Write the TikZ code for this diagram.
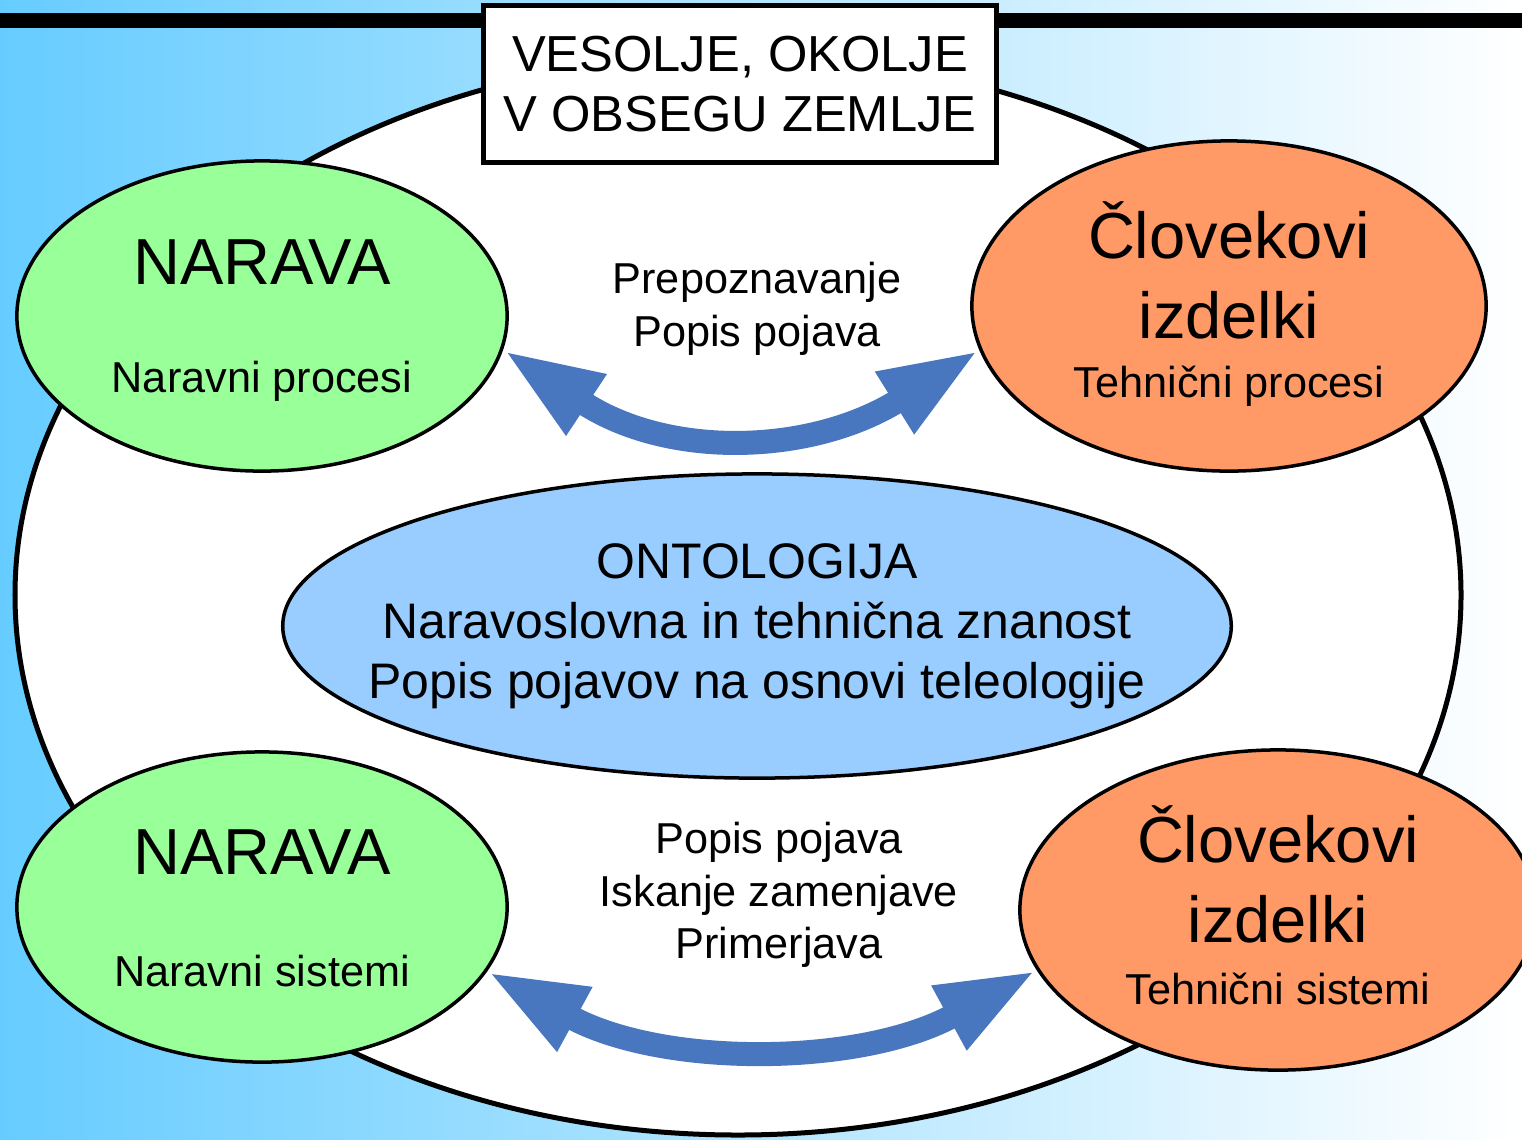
\documentclass[tikz,border=0pt]{standalone}
\usepackage{fontspec}
\setmainfont{Liberation Sans}
\usetikzlibrary{shapes.geometric,arrows.meta}
\definecolor{r102g204b255}{RGB}{102,204,255}
\definecolor{r153g255b153}{RGB}{153,255,153}
\definecolor{r255g153b102}{RGB}{255,153,102}
\definecolor{r153g204b255}{RGB}{153,204,255}
\definecolor{r72g119b191}{RGB}{72,119,191}
\tikzset{
  greenell/.style={ellipse, draw, line width=0.035cm, fill=r153g255b153, minimum width=4.9cm, minimum height=3.1cm},
  orangeell/.style={ellipse, draw, line width=0.035cm, fill=r255g153b102},
  bluearrow/.style={draw=r72g119b191, line width=0.24cm,
    {Triangle[length=1cm,width=0.66cm]}-{Triangle[length=1cm,width=0.66cm]}},
  bigtext/.style={inner sep=0pt, font=\fontsize{18.5}{22.8}\selectfont},
  smalltext/.style={inner sep=0pt, align=center, font=\fontsize{12.3}{15}\selectfont},
  midtext/.style={inner sep=0pt, align=center, font=\fontsize{14.2}{17}\selectfont}
}
\begin{document}
\begin{tikzpicture}[x=0.01cm,y=-0.01cm]
% Page and background
\useasboundingbox (0,0) rectangle (1522,1139);
\clip (0,0) rectangle (1522,1139);
\shade [left color=r102g204b255, right color=white] (0,0) rectangle (1522,1139);
\fill [black] (0,13) rectangle (1522,28);

% Drawing the big ellipse
\draw [line width=0.05cm, fill=white] (738,595) ellipse [x radius=723, y radius=540];

% Title box
\node (vesolje) [draw, line width=0.05cm, fill=white, minimum width=5.13cm, minimum height=1.56cm,
  align=center, font=\fontsize{14.4}{17}\selectfont] at (740,84) {VESOLJE, OKOLJE\\V OBSEGU ZEMLJE};

% Upper pair
\node (naravaA) [greenell] at (262,316) {};
\node [bigtext] at (262,262) {NARAVA};
\node [smalltext] at (262,381) {Naravni procesi};

\node (clovekA) [orangeell, minimum width=5.14cm, minimum height=3.3cm] at (1229,306) {};
\node [bigtext, align=center] at (1229,270) {Človekovi\\izdelki};
\node [smalltext] at (1229,386) {Tehnični procesi};

\node (procesi) [smalltext] at (757,309) {Prepoznavanje\\Popis pojava};

% Centre ellipse
\node (ontologija) [ellipse, draw, line width=0.035cm, fill=r153g204b255, minimum width=9.48cm, minimum height=3.04cm] at (757,626) {};
\node [midtext] at (757,626) {ONTOLOGIJA\\Naravoslovna in tehnična znanost\\Popis pojavov na osnovi teleologije};

% Lower pair
\node (naravaB) [greenell] at (262,907) {};
\node [bigtext] at (262,852) {NARAVA};
\node [smalltext] at (262,971) {Naravni sistemi};

\node (clovekB) [orangeell, minimum width=5.16cm, minimum height=3.2cm] at (1278,910) {};
\node [bigtext, align=center] at (1278,874) {Človekovi\\izdelki};
\node [smalltext] at (1278,989) {Tehnični sistemi};

\node (sistemi) [smalltext] at (779,895) {Popis pojava\\Iskanje zamenjave\\Primerjava};

% Arrows
\draw [bluearrow] (naravaA.-8) .. controls +(165,109) and +(-168,105) .. (clovekA.190);
\draw [bluearrow] (naravaB.-16) .. controls +(176,96) and +(-176,96) .. (clovekB.194);
\end{tikzpicture}
\end{document}
